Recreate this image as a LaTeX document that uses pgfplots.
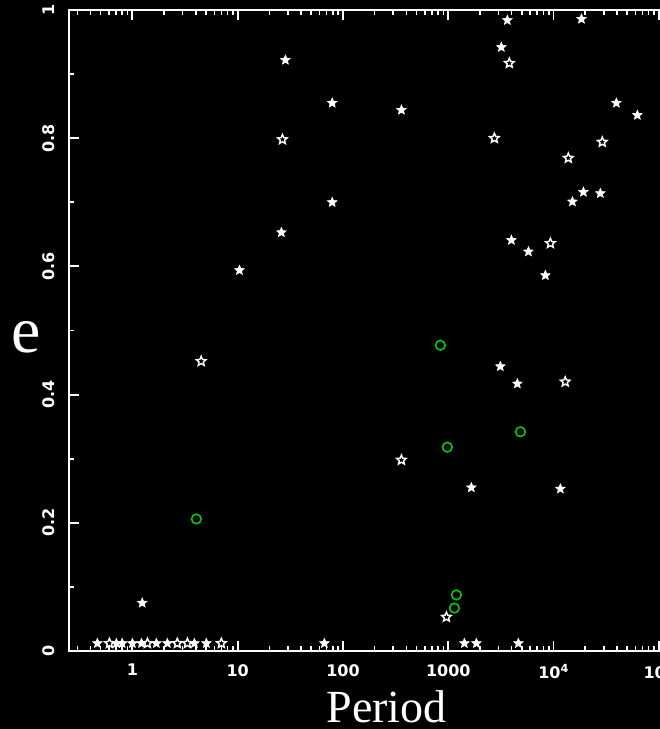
\documentclass[border=0pt]{standalone}
\usepackage{fontspec}
\setmainfont{Liberation Serif}
\setsansfont{DejaVu Sans}
\usepackage{pgfplots}
\pgfplotsset{compat=1.18}
\definecolor{ptgreen}{RGB}{0,205,0}
\pgfdeclareplotmark{fstar}{%
 \pgfpathmoveto{\pgfpointpolar{90}{\pgfplotmarksize}}%
 \pgfpathlineto{\pgfpointpolar{126}{0.45\pgfplotmarksize}}%
 \pgfpathlineto{\pgfpointpolar{162}{\pgfplotmarksize}}%
 \pgfpathlineto{\pgfpointpolar{198}{0.45\pgfplotmarksize}}%
 \pgfpathlineto{\pgfpointpolar{234}{\pgfplotmarksize}}%
 \pgfpathlineto{\pgfpointpolar{270}{0.45\pgfplotmarksize}}%
 \pgfpathlineto{\pgfpointpolar{306}{\pgfplotmarksize}}%
 \pgfpathlineto{\pgfpointpolar{342}{0.45\pgfplotmarksize}}%
 \pgfpathlineto{\pgfpointpolar{18}{\pgfplotmarksize}}%
 \pgfpathlineto{\pgfpointpolar{54}{0.45\pgfplotmarksize}}%
 \pgfpathclose
 \pgfusepathqfillstroke}
\pgfdeclareplotmark{ostar}{%
 \pgfpathmoveto{\pgfpointpolar{90}{\pgfplotmarksize}}%
 \pgfpathlineto{\pgfpointpolar{126}{0.45\pgfplotmarksize}}%
 \pgfpathlineto{\pgfpointpolar{162}{\pgfplotmarksize}}%
 \pgfpathlineto{\pgfpointpolar{198}{0.45\pgfplotmarksize}}%
 \pgfpathlineto{\pgfpointpolar{234}{\pgfplotmarksize}}%
 \pgfpathlineto{\pgfpointpolar{270}{0.45\pgfplotmarksize}}%
 \pgfpathlineto{\pgfpointpolar{306}{\pgfplotmarksize}}%
 \pgfpathlineto{\pgfpointpolar{342}{0.45\pgfplotmarksize}}%
 \pgfpathlineto{\pgfpointpolar{18}{\pgfplotmarksize}}%
 \pgfpathlineto{\pgfpointpolar{54}{0.45\pgfplotmarksize}}%
 \pgfpathclose
 \pgfusepathqstroke}
\begin{document}
\begin{tikzpicture}
\fill[black] (-69pt,-78pt) rectangle (591pt,651pt);
\useasboundingbox (-69pt,-78pt) rectangle (591pt,651pt);
\clip (-69pt,-78pt) rectangle (591pt,651pt);
\begin{axis}[
 at={(0pt,0pt)}, anchor=south west, scale only axis,
 width=635.3pt, height=641pt,
 xmode=log, xmin=0.25, xmax=2.7e5, ymin=0, ymax=1,
 axis line style={white, line width=2pt},
 tick style={white, line width=1.8pt},
 major tick style={white, line width=1.8pt},
 minor tick style={white, line width=1.6pt},
 major tick length=10pt, minor tick length=5pt,
 tick align=inside,
 xtick pos=both, ytick pos=both,
 xtick={1,10,100,1000,10000,100000},
 xticklabels={1,10,100,1000,10\textsuperscript{4},10\textsuperscript{5}},
 minor xtick={0.3,0.4,0.5,0.6,0.7,0.8,0.9,2,3,4,5,6,7,8,9,20,30,40,50,60,70,80,90,200,300,400,500,600,700,800,900,2000,3000,4000,5000,6000,7000,8000,9000,20000,30000,40000,50000,60000,70000,80000,90000,200000},
 ytick={0,0.2,0.4,0.6,0.8,1},
 yticklabels={0,0.2,0.4,0.6,0.8,1},
 minor ytick={0.1,0.3,0.5,0.7,0.9},
 tick label style={white, font=\sffamily\bfseries\fontsize{16}{16}\selectfont},
 yticklabel style={rotate=90, anchor=south, inner sep=0pt},
 yticklabel shift=14pt,
 xticklabel style={inner sep=0pt, yshift=-13pt},
 xlabel={Period}, ylabel={e},
 every axis x label/.style={at={(axis description cs:0.5,-0.1108)}, anchor=base, white, inner sep=0pt, font=\fontsize{46}{46}\selectfont},
 every axis y label/.style={at={(axis description cs:-0.0677,0.465)}, anchor=base, white, inner sep=0pt, font=\fontsize{66}{66}\selectfont},
 clip=false,
]
% filled stars
\addplot[only marks, mark=fstar, mark size=5pt, white, fill=white, line width=0.6pt] coordinates {
(1.24,0.075) (10.4,0.594) (26,0.653) (28.4,0.922) (79,0.855) (79,0.70)
(359,0.844) (3640,0.984) (3190,0.942) (18400,0.986) (39500,0.855) (62500,0.836)
(19200,0.716) (27800,0.714) (15100,0.701) (3980,0.641) (5770,0.623) (8360,0.586)
(3120,0.444) (4530,0.417) (1656,0.255) (11600,0.253)
(0.465,0.012) (0.705,0.012) (0.80,0.012) (1.0,0.012) (1.22,0.012) (1.69,0.012)
(2.15,0.012) (3.88,0.012) (5.04,0.012) (66.6,0.012) (1422,0.012) (1849,0.012) (4630,0.012)
};
% open stars
\addplot[only marks, mark=ostar, mark size=5pt, white, line width=1.4pt] coordinates {
(4.5,0.452) (26.6,0.798) (3800,0.917) (2740,0.80) (29000,0.794) (13800,0.769)
(9330,0.636) (12900,0.42) (359,0.298) (960,0.053)
(0.605,0.012) (1.39,0.012) (2.67,0.012) (3.33,0.012) (7.0,0.012)
};
% green circles
\addplot[only marks, mark=o, mark size=4.8pt, ptgreen, line width=1.6pt] coordinates {
(4.05,0.206) (841,0.477) (980,0.318) (4840,0.342) (1195,0.0875) (1143,0.067)
};
\end{axis}
\end{tikzpicture}
\end{document}
